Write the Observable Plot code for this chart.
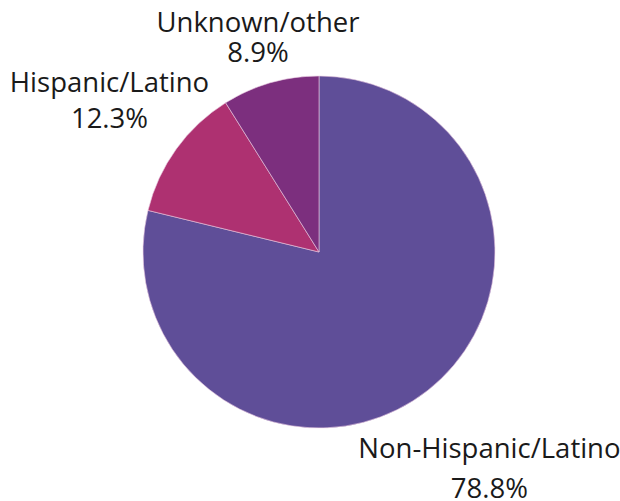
<!DOCTYPE html>
<html>
<head>
<meta charset="utf-8">
<script src="https://cdn.jsdelivr.net/npm/d3@7"></script>
<script src="https://cdn.jsdelivr.net/npm/@observablehq/plot@0.6"></script>
<style>
  html, body { margin: 0; padding: 0; background: #ffffff; }
  #chart svg { display: block; }
</style>
</head>
<body>
<div id="chart"></div>
<script>
const categories = ["Non-Hispanic/Latino", "Hispanic/Latino", "Unknown/other"];
const values = [78.8, 12.3, 8.9];
const valueLabels = ["78.8%", "12.3%", "8.9%"];
const colors = ["#5f4e98", "#ae3171", "#7c2f7e"];

const W = 620, H = 501;
const cx = 319, cy = 252, R = 176;
const labelRadius = [275, 259, 223];
const lineGap = [40, 36, 30];

const data = categories.map((c, i) => ({ category: c, value: values[i], label: valueLabels[i] }));
const arcs = d3.pie().sort(null).value(d => d.value)(data);

const labelRows = [];
arcs.forEach((a, i) => {
  const mid = (a.startAngle + a.endAngle) / 2;
  const lx = cx + labelRadius[i] * Math.sin(mid);
  const ly = cy - labelRadius[i] * Math.cos(mid);
  labelRows.push({ x: lx, y: ly - lineGap[i] / 2, text: a.data.category });
  labelRows.push({ x: lx, y: ly + lineGap[i] / 2, text: a.data.label });
});

function pieMark(index, scales) {
  const g = d3.create("svg:g");
  const arcGen = d3.arc().innerRadius(0).outerRadius(R);
  const px = scales.x(cx), py = scales.y(cy);
  g.attr("transform", `translate(${px},${py})`)
    .selectAll("path")
    .data(arcs)
    .join("path")
    .attr("d", arcGen)
    .attr("fill", (d, i) => colors[i])
    .attr("stroke", "#e9c9e0")
    .attr("stroke-width", 0.6);
  return g.node();
}

const chart = Plot.plot({
  width: W,
  height: H,
  margin: 0,
  style: { fontFamily: "'Open Sans', sans-serif", background: "#ffffff" },
  x: { domain: [0, W], range: [0, W], axis: null },
  y: { domain: [0, H], range: [0, H], axis: null },
  marks: [
    pieMark,
    Plot.text(labelRows, {
      x: "x", y: "y", text: "text",
      fontSize: 27.5, fill: "#1a1a1a", textAnchor: "middle", lineAnchor: "middle"
    })
  ]
});
document.getElementById("chart").appendChild(chart);
</script>
</body>
</html>
